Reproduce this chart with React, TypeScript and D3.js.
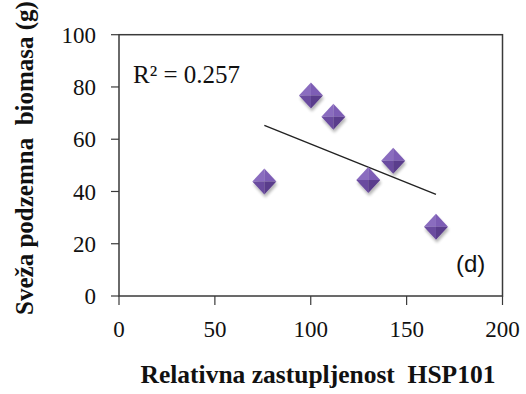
import React from "react";
import * as d3 from "d3";

const hspValues = [75.8, 100.1, 111.8, 130.0, 143.0, 165.3];
const biomassValues = [43.8, 76.7, 68.6, 44.4, 51.8, 26.5];
const xTicks = [0, 50, 100, 150, 200];
const yTicks = [0, 20, 40, 60, 80, 100];
const r2Label = "R² = 0.257";
const panelLabel = "(d)";
const xTitle = "Relativna zastupljenost\u00a0 HSP101";
const yTitle = "Sveža podzemna\u00a0 biomasa (g)";

const W = 526;
const H = 394;
const M = { left: 119, right: 526 - 502.5, top: 34.7, bottom: 394 - 296 };

export default function App() {
  const x = d3.scaleLinear().domain([0, 200]).range([M.left, W - M.right]);
  const y = d3.scaleLinear().domain([0, 100]).range([H - M.bottom, M.top]);

  const n = hspValues.length;
  const mx = d3.mean(hspValues)!;
  const my = d3.mean(biomassValues)!;
  let sxy = 0, sxx = 0;
  for (let i = 0; i < n; i++) {
    sxy += (hspValues[i] - mx) * (biomassValues[i] - my);
    sxx += (hspValues[i] - mx) ** 2;
  }
  const slope = sxy / sxx;
  const icpt = my - slope * mx;
  const [x0, x1] = d3.extent(hspValues) as [number, number];
  const line = d3.line<number>().x((v) => x(v)).y((v) => y(icpt + slope * v));

  const hw = 12;
  const hh = 13;
  const serif = "'Liberation Serif', 'Times New Roman', serif";

  return (
    <svg width={W} height={H} style={{ position: "absolute", left: 0, top: 0, background: "#fff" }}>
      <defs>
        <filter id="sh" x="-50%" y="-50%" width="200%" height="200%">
          <feGaussianBlur in="SourceAlpha" stdDeviation="1.8" />
          <feOffset dx="1" dy="3" result="b" />
          <feComponentTransfer>
            <feFuncA type="linear" slope="0.3" />
          </feComponentTransfer>
          <feMerge>
            <feMergeNode />
            <feMergeNode in="SourceGraphic" />
          </feMerge>
        </filter>
      </defs>
      <rect x={M.left} y={M.top} width={x(200) - x(0)} height={y(0) - y(100)} fill="none" stroke="#3a3a3a" strokeWidth={1.5} />
      {yTicks.map((t) => (
        <g key={"y" + t}>
          <line x1={x(0) - 8} x2={x(0)} y1={y(t)} y2={y(t)} stroke="#3a3a3a" strokeWidth={1.2} />
          <text x={x(0) - 23} y={y(t)} dy="0.35em" textAnchor="end" fontFamily={serif} fontSize={23} fill="#111">
            {t}
          </text>
        </g>
      ))}
      {xTicks.map((t) => (
        <g key={"x" + t}>
          <line x1={x(t)} x2={x(t)} y1={y(0)} y2={y(0) + 9} stroke="#3a3a3a" strokeWidth={1.2} />
          <text x={x(t)} y={337} textAnchor="middle" fontFamily={serif} fontSize={23} fill="#111">
            {t}
          </text>
        </g>
      ))}
      <path d={line([x0, x1]) || ""} stroke="#222" strokeWidth={1.4} fill="none" />
      {hspValues.map((v, i) => {
        const cx = x(v);
        const cy = y(biomassValues[i]);
        return (
          <g key={"p" + i} filter="url(#sh)">
            <path d={`M${cx},${cy - hh}L${cx - hw},${cy}L${cx},${cy}Z`} fill="#8a6cbf" />
            <path d={`M${cx},${cy - hh}L${cx + hw},${cy}L${cx},${cy}Z`} fill="#7d5db5" />
            <path d={`M${cx - hw},${cy}L${cx},${cy + hh}L${cx},${cy}Z`} fill="#6a4b9f" />
            <path d={`M${cx + hw},${cy}L${cx},${cy + hh}L${cx},${cy}Z`} fill="#5a3c8c" />
          </g>
        );
      })}
      <text x={133} y={82.5} fontFamily={serif} fontSize={25} fill="#111">
        {r2Label}
      </text>
      <text x={456} y={272} fontFamily="'Liberation Sans', Arial, sans-serif" fontSize={24} fill="#111">
        {panelLabel}
      </text>
      <text x={318} y={383} textAnchor="middle" fontFamily={serif} fontWeight="bold" fontSize={25.5} fill="#111">
        {xTitle}
      </text>
      <text
        transform={`translate(33,158) rotate(-90)`}
        textAnchor="middle"
        fontFamily={serif}
        fontWeight="bold"
        fontSize={25}
        fill="#111"
      >
        {yTitle}
      </text>
    </svg>
  );
}
